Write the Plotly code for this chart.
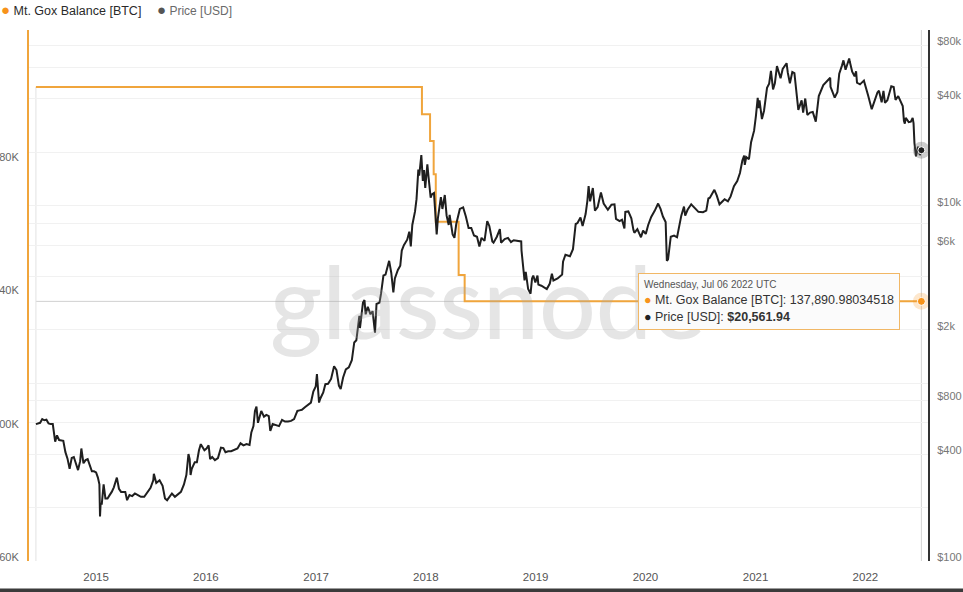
import plotly.graph_objects as go
import pandas as pd

# ---------------- data ----------------
balance_dates = ["2014-06-15", "2017-12-19", "2018-01-15", "2018-01-27", "2018-02-03",
                 "2018-04-20", "2018-05-10", "2022-07-06"]
balance_values = [202185.0, 194000.0, 186000.0, 176000.0, 161800.0,
                  145800.0, 137890.98034518, 137890.98034518]

price_points = [
    ("2014-06-15", 590), ("2014-06-22", 595), ("2014-06-29", 600), ("2014-07-06", 630), ("2014-07-13", 620),
    ("2014-07-20", 625), ("2014-07-27", 595), ("2014-08-03", 590), ("2014-08-10", 590), ("2014-08-18", 470),
    ("2014-08-24", 510), ("2014-08-31", 480), ("2014-09-07", 478), ("2014-09-14", 475), ("2014-09-21", 410),
    ("2014-09-28", 377), ("2014-10-05", 330), ("2014-10-12", 380), ("2014-10-19", 385), ("2014-10-26", 355),
    ("2014-11-02", 325), ("2014-11-09", 365), ("2014-11-13", 430), ("2014-11-20", 355), ("2014-11-27", 370),
    ("2014-12-04", 375), ("2014-12-11", 350), ("2014-12-18", 320), ("2014-12-25", 320),
    ("2015-01-01", 315), ("2015-01-07", 295), ("2015-01-12", 270), ("2015-01-14", 178), ("2015-01-16", 210),
    ("2015-01-20", 210), ("2015-01-26", 270), ("2015-02-01", 225), ("2015-02-08", 225), ("2015-02-15", 235),
    ("2015-02-22", 245), ("2015-03-01", 260), ("2015-03-11", 295), ("2015-03-18", 255), ("2015-03-25", 245),
    ("2015-04-01", 245), ("2015-04-08", 245), ("2015-04-14", 220), ("2015-04-22", 235), ("2015-05-01", 232),
    ("2015-05-10", 240), ("2015-05-20", 235), ("2015-05-30", 230), ("2015-06-10", 230), ("2015-06-20", 245),
    ("2015-07-01", 258), ("2015-07-10", 285), ("2015-07-12", 310), ("2015-07-20", 275), ("2015-07-31", 285),
    ("2015-08-10", 265), ("2015-08-18", 225), ("2015-08-25", 220), ("2015-09-01", 228), ("2015-09-10", 240),
    ("2015-09-20", 230), ("2015-09-30", 237), ("2015-10-10", 245), ("2015-10-20", 270), ("2015-10-28", 305),
    ("2015-11-04", 400), ("2015-11-08", 375), ("2015-11-11", 305), ("2015-11-15", 330), ("2015-11-25", 360),
    ("2015-12-02", 360), ("2015-12-09", 420), ("2015-12-15", 455), ("2015-12-20", 440), ("2015-12-27", 420),
    ("2016-01-03", 430), ("2016-01-10", 448), ("2016-01-15", 375), ("2016-01-22", 385), ("2016-01-31", 370),
    ("2016-02-10", 380), ("2016-02-20", 435), ("2016-02-28", 432), ("2016-03-06", 410), ("2016-03-15", 415),
    ("2016-03-25", 415), ("2016-04-05", 423), ("2016-04-15", 430), ("2016-04-25", 460), ("2016-05-05", 448),
    ("2016-05-15", 455), ("2016-05-25", 450), ("2016-05-31", 530), ("2016-06-07", 575), ("2016-06-12", 700),
    ("2016-06-17", 740), ("2016-06-22", 600), ("2016-06-26", 630), ("2016-07-03", 700), ("2016-07-12", 650),
    ("2016-07-20", 665), ("2016-07-28", 655), ("2016-08-02", 540), ("2016-08-10", 590), ("2016-08-20", 580),
    ("2016-08-31", 575), ("2016-09-10", 623), ("2016-09-20", 610), ("2016-09-30", 610), ("2016-10-10", 615),
    ("2016-10-20", 630), ("2016-10-31", 700), ("2016-11-07", 705), ("2016-11-15", 710), ("2016-11-25", 735),
    ("2016-12-05", 760), ("2016-12-15", 780), ("2016-12-23", 900), ("2016-12-31", 960),
    ("2017-01-04", 1130), ("2017-01-07", 890), ("2017-01-11", 780), ("2017-01-15", 820), ("2017-01-25", 890),
    ("2017-02-01", 990), ("2017-02-10", 995), ("2017-02-20", 1060), ("2017-03-02", 1250), ("2017-03-10", 1190),
    ("2017-03-18", 970), ("2017-03-24", 930), ("2017-04-01", 1080), ("2017-04-10", 1200), ("2017-04-20", 1230),
    ("2017-04-30", 1350), ("2017-05-08", 1700), ("2017-05-15", 1750), ("2017-05-20", 2050), ("2017-05-25", 2400),
    ("2017-05-27", 2050), ("2017-06-06", 2850), ("2017-06-11", 2950), ("2017-06-15", 2450), ("2017-06-22", 2700),
    ("2017-07-01", 2450), ("2017-07-08", 2550), ("2017-07-16", 1930), ("2017-07-21", 2800), ("2017-07-31", 2850),
    ("2017-08-05", 3200), ("2017-08-13", 4050), ("2017-08-20", 4100), ("2017-08-31", 4700), ("2017-09-01", 4900),
    ("2017-09-08", 4200), ("2017-09-15", 3250), ("2017-09-20", 3900), ("2017-09-30", 4350), ("2017-10-08", 4600),
    ("2017-10-13", 5600), ("2017-10-20", 6000), ("2017-10-31", 6450), ("2017-11-07", 7150), ("2017-11-12", 5900),
    ("2017-11-17", 7800), ("2017-11-26", 9300), ("2017-12-01", 10900), ("2017-12-07", 16000), ("2017-12-10", 14800),
    ("2017-12-17", 19300), ("2017-12-22", 13800), ("2017-12-26", 15900), ("2017-12-30", 12600),
    ("2018-01-06", 17100), ("2018-01-10", 14500), ("2018-01-17", 11100), ("2018-01-21", 11600), ("2018-01-28", 11800),
    ("2018-02-02", 8800), ("2018-02-06", 6900), ("2018-02-10", 8500), ("2018-02-20", 11200), ("2018-02-25", 9600),
    ("2018-03-05", 11500), ("2018-03-11", 8800), ("2018-03-18", 7800), ("2018-03-21", 8900), ("2018-03-31", 6900),
    ("2018-04-06", 6600), ("2018-04-12", 7900), ("2018-04-24", 9600), ("2018-05-05", 9800), ("2018-05-14", 8700),
    ("2018-05-23", 7500), ("2018-06-01", 7500), ("2018-06-10", 6800), ("2018-06-20", 6700), ("2018-06-28", 5900),
    ("2018-07-05", 6600), ("2018-07-15", 6350), ("2018-07-24", 8200), ("2018-07-31", 7700), ("2018-08-10", 6300),
    ("2018-08-14", 6200), ("2018-08-25", 6700), ("2018-09-04", 7400), ("2018-09-08", 6200), ("2018-09-20", 6500),
    ("2018-10-01", 6600), ("2018-10-11", 6250), ("2018-10-20", 6400), ("2018-11-01", 6350), ("2018-11-14", 6300),
    ("2018-11-15", 5600), ("2018-11-20", 4500), ("2018-11-25", 3800), ("2018-11-29", 4250), ("2018-12-07", 3400),
    ("2018-12-15", 3200), ("2018-12-20", 3900), ("2018-12-24", 4050), ("2018-12-31", 3700),
    ("2019-01-07", 4050), ("2019-01-10", 3600), ("2019-01-20", 3550), ("2019-01-30", 3450), ("2019-02-07", 3400),
    ("2019-02-17", 3650), ("2019-02-24", 4150), ("2019-03-01", 3800), ("2019-03-15", 3900), ("2019-03-30", 4100),
    ("2019-04-02", 4850), ("2019-04-10", 5300), ("2019-04-25", 5200), ("2019-05-05", 5700), ("2019-05-11", 6800),
    ("2019-05-14", 7900), ("2019-05-20", 8000), ("2019-05-30", 8600), ("2019-06-06", 7700), ("2019-06-16", 8990),
    ("2019-06-22", 10700), ("2019-06-26", 12900), ("2019-07-01", 10600), ("2019-07-10", 12600), ("2019-07-17", 9400),
    ("2019-07-26", 9850), ("2019-08-06", 11900), ("2019-08-15", 10300), ("2019-08-29", 9500), ("2019-09-10", 10150),
    ("2019-09-20", 10200), ("2019-09-25", 8450), ("2019-10-07", 8200), ("2019-10-15", 8350), ("2019-10-23", 7450),
    ("2019-10-26", 9250), ("2019-11-05", 9300), ("2019-11-15", 8500), ("2019-11-22", 7300), ("2019-11-25", 7050),
    ("2019-12-05", 7400), ("2019-12-17", 6650), ("2019-12-24", 7250),
    ("2020-01-02", 6950), ("2020-01-10", 7800), ("2020-01-20", 8650), ("2020-02-01", 9400), ("2020-02-12", 10300),
    ("2020-02-20", 9600), ("2020-02-28", 8700), ("2020-03-08", 8100), ("2020-03-12", 4900), ("2020-03-16", 5000),
    ("2020-03-25", 6700), ("2020-04-05", 6800), ("2020-04-15", 6650), ("2020-04-29", 8800), ("2020-05-08", 9900),
    ("2020-05-12", 8800), ("2020-05-20", 9500), ("2020-06-01", 10200), ("2020-06-10", 9800), ("2020-06-25", 9250),
    ("2020-07-10", 9200), ("2020-07-21", 9400), ("2020-07-28", 11000), ("2020-08-02", 11100), ("2020-08-17", 12300),
    ("2020-08-25", 11400), ("2020-09-03", 10200), ("2020-09-20", 10900), ("2020-10-01", 10600), ("2020-10-10", 11300),
    ("2020-10-21", 12900), ("2020-11-01", 13800), ("2020-11-10", 15300), ("2020-11-18", 18000), ("2020-11-24", 19200),
    ("2020-11-26", 17000), ("2020-12-01", 18800), ("2020-12-10", 18300), ("2020-12-17", 22800), ("2020-12-27", 26500),
    ("2021-01-02", 32000), ("2021-01-08", 40600), ("2021-01-11", 35500), ("2021-01-14", 39200), ("2021-01-22", 30800),
    ("2021-01-29", 34300), ("2021-02-08", 46200), ("2021-02-15", 48700), ("2021-02-21", 57500), ("2021-02-28", 45200),
    ("2021-03-06", 48900), ("2021-03-13", 61200), ("2021-03-25", 52300), ("2021-04-01", 59000), ("2021-04-14", 63500),
    ("2021-04-18", 56200), ("2021-04-25", 49000), ("2021-05-03", 56600), ("2021-05-10", 55800), ("2021-05-13", 49700),
    ("2021-05-19", 37000), ("2021-05-23", 34700), ("2021-06-03", 39200), ("2021-06-08", 33500), ("2021-06-15", 40200),
    ("2021-06-22", 32500), ("2021-07-01", 33500), ("2021-07-10", 33800), ("2021-07-20", 29800), ("2021-07-30", 41500),
    ("2021-08-14", 47800), ("2021-08-22", 49300), ("2021-09-06", 52600), ("2021-09-07", 46800), ("2021-09-21", 40700),
    ("2021-09-30", 43800), ("2021-10-06", 55400), ("2021-10-15", 61600), ("2021-10-20", 65900), ("2021-10-27", 58400),
    ("2021-11-08", 67500), ("2021-11-10", 64900), ("2021-11-18", 56900), ("2021-11-26", 53700), ("2021-12-01", 57200),
    ("2021-12-04", 49400), ("2021-12-14", 48300), ("2021-12-27", 50700),
    ("2022-01-01", 47700), ("2022-01-10", 41800), ("2022-01-22", 35000), ("2022-01-28", 37700), ("2022-02-10", 43500),
    ("2022-02-15", 44500), ("2022-02-24", 38300), ("2022-03-02", 44400), ("2022-03-07", 38000), ("2022-03-15", 39300),
    ("2022-03-28", 47100), ("2022-04-05", 46600), ("2022-04-11", 39500), ("2022-04-20", 41500), ("2022-04-30", 37700),
    ("2022-05-05", 36500), ("2022-05-09", 30100), ("2022-05-12", 29000), ("2022-05-15", 31300), ("2022-05-25", 29600),
    ("2022-06-01", 29800), ("2022-06-07", 31300), ("2022-06-10", 29100), ("2022-06-13", 22500), ("2022-06-18", 19000),
    ("2022-06-25", 21500), ("2022-07-01", 19300), ("2022-07-06", 20561.94),
]
price_dates = [d for d, _ in price_points]
price_values = [v for _, v in price_points]

year_ticks = ["2015-01-01", "2016-01-01", "2017-01-01", "2018-01-01",
              "2019-01-01", "2020-01-01", "2021-01-01", "2022-01-01"]
year_labels = ["2015", "2016", "2017", "2018", "2019", "2020", "2021", "2022"]

left_tickvals = [60000, 100000, 140000, 180000]
left_ticktext = ["60K", "100K", "140K", "180K"]

right_tickvals = [100, 200, 400, 600, 800, 1000, 2000, 4000, 6000, 8000, 10000, 20000, 40000, 60000, 80000, 100000]
right_ticktext = ["$100", "", "$400", "", "$800", "", "$2k", "", "$6k", "", "$10k", "", "$40k", "", "$80k", ""]

# ---------------- styling ----------------
ORANGE_LINE = "#f0a53c"
ORANGE_DOT = "#f7931a"
PRICE_LINE = "#1f1f1f"
FONT = "Liberation Sans, Arial, sans-serif"

# plot area in pixels (for paper-coordinate annotations)
W, H = 963, 592
ML, MR, MT, MB = 29, 35, 30, 31
PW, PH = W - ML - MR, H - MT - MB


def px(x):
    return (x - ML) / PW


def py(y):
    return (H - MB - y) / PH


fig = go.Figure()

fig.add_trace(go.Scatter(
    x=balance_dates, y=balance_values, mode="lines", line_shape="hv",
    line=dict(color=ORANGE_LINE, width=2), name="Mt. Gox Balance [BTC]",
    yaxis="y", showlegend=False, hoverinfo="skip"))

fig.add_trace(go.Scatter(
    x=price_dates, y=price_values, mode="lines",
    line=dict(color=PRICE_LINE, width=2), name="Price [USD]",
    yaxis="y2", showlegend=False, hoverinfo="skip"))

# hover-state markers at the last data point
last_date = price_dates[-1]
fig.add_trace(go.Scatter(x=[balance_dates[-1]], y=[balance_values[-1]], mode="markers", yaxis="y",
                         marker=dict(size=17, color="rgba(247,147,26,0.22)"), showlegend=False, hoverinfo="skip"))
fig.add_trace(go.Scatter(x=[balance_dates[-1]], y=[balance_values[-1]], mode="markers", yaxis="y",
                         marker=dict(size=8, color=ORANGE_DOT, line=dict(color="white", width=1)),
                         showlegend=False, hoverinfo="skip"))
fig.add_trace(go.Scatter(x=[last_date], y=[price_values[-1]], mode="markers", yaxis="y2",
                         marker=dict(size=17, color="rgba(90,90,90,0.30)"), showlegend=False, hoverinfo="skip"))
fig.add_trace(go.Scatter(x=[last_date], y=[price_values[-1]], mode="markers", yaxis="y2",
                         marker=dict(size=7, color=PRICE_LINE, line=dict(color="white", width=1)),
                         showlegend=False, hoverinfo="skip"))

shapes = [
    # crosshair
    dict(type="line", xref="x", yref="paper", x0=last_date, x1=last_date, y0=0, y1=1,
         line=dict(color="#d4d4d4", width=1), layer="below"),
    dict(type="line", xref="x", yref="y", x0=balance_dates[0], x1=last_date,
         y0=balance_values[-1], y1=balance_values[-1], line=dict(color="#d0d0d0", width=1), layer="below"),
    # faint line at series start
    dict(type="line", xref="x", yref="y", x0=balance_dates[0], x1=balance_dates[0],
         y0=left_tickvals[0], y1=balance_values[0], line=dict(color="#e2e2e2", width=1), layer="below"),
    # dark strip at bottom edge of screenshot
    dict(type="rect", xref="paper", yref="paper", x0=px(-5), x1=px(W + 5), y0=py(H + 2), y1=py(H - 3.5),
         fillcolor="#3b3b3b", line=dict(width=0)),
]

# tooltip text built from data
last_ts = pd.Timestamp(last_date)
tooltip = (
    f"<span style='font-size:10px;color:#555'>{last_ts.strftime('%A, %b %d %Y')} UTC</span><br>"
    f"<span style='color:{ORANGE_DOT}'>●</span> Mt. Gox Balance [BTC]: {balance_values[-1]:,.8f}<br>"
    f"<span style='color:#222'>●</span> Price [USD]: <b>${price_values[-1]:,.2f}</b>"
)

annotations = [
    # watermark
    dict(xref="paper", yref="paper", x=px(488), y=py(300), text="glassnode", showarrow=False,
         font=dict(family="Lato, Inter, sans-serif", size=100, color="rgba(170,170,170,0.30)", weight=500),
         xanchor="center", yanchor="middle"),
    # legend
    dict(xref="paper", yref="paper", x=px(-1), y=py(9), xanchor="left", yanchor="middle", showarrow=False,
         text=f"<span style='color:{ORANGE_DOT};font-size:15px'>●</span> Mt. Gox Balance [BTC]",
         font=dict(family=FONT, size=12.5, color="#2a2a2a")),
    dict(xref="paper", yref="paper", x=px(155), y=py(9), xanchor="left", yanchor="middle", showarrow=False,
         text="<span style='color:#555;font-size:15px'>●</span> Price [USD]",
         font=dict(family=FONT, size=12, color="#6a6a6a")),
    # tooltip
    dict(xref="paper", yref="paper", x=px(638), y=py(273), xanchor="left", yanchor="top", showarrow=False,
         text=tooltip, align="left", bgcolor="rgba(251,251,251,0.97)", bordercolor="#f1b765",
         borderwidth=1, borderpad=5, font=dict(family=FONT, size=12.5, color="#333")),
]

fig.update_layout(
    width=W, height=H, template="none",
    margin=dict(l=ML, r=MR, t=MT, b=MB, pad=0),
    paper_bgcolor="white", plot_bgcolor="white",
    font=dict(family=FONT, size=11, color="#555"),
    showlegend=False,
    xaxis=dict(type="date", range=["2014-05-23", "2022-07-28"], tickvals=year_ticks, ticktext=year_labels,
               showgrid=False, zeroline=False, showline=False, ticks="", automargin=False,
               ticklabelstandoff=7, tickfont=dict(size=11.5, color="#555")),
    yaxis=dict(range=[60000, 219300], tickvals=left_tickvals, ticktext=left_ticktext, side="left",
               showgrid=False, zeroline=False, showline=True, linecolor=ORANGE_LINE, linewidth=2,
               ticks="", automargin=False, ticklabelstandoff=6, ticklabelshift=-4,
               tickfont=dict(size=11, color="#666")),
    yaxis2=dict(type="log", range=[2, 4.99], overlaying="y", side="right", tickvals=right_tickvals,
                ticktext=right_ticktext, showgrid=True, gridcolor="#f1f1f1", gridwidth=1, zeroline=False,
                showline=True, linecolor="#333", linewidth=2, ticks="", automargin=False,
                ticklabelstandoff=5, ticklabelshift=-4, tickfont=dict(size=11, color="#777")),
    shapes=shapes,
    annotations=annotations,
)

fig.write_html("out.html", config={"displayModeBar": False},
               post_script="document.body.style.margin='0';document.body.style.overflow='hidden';")
